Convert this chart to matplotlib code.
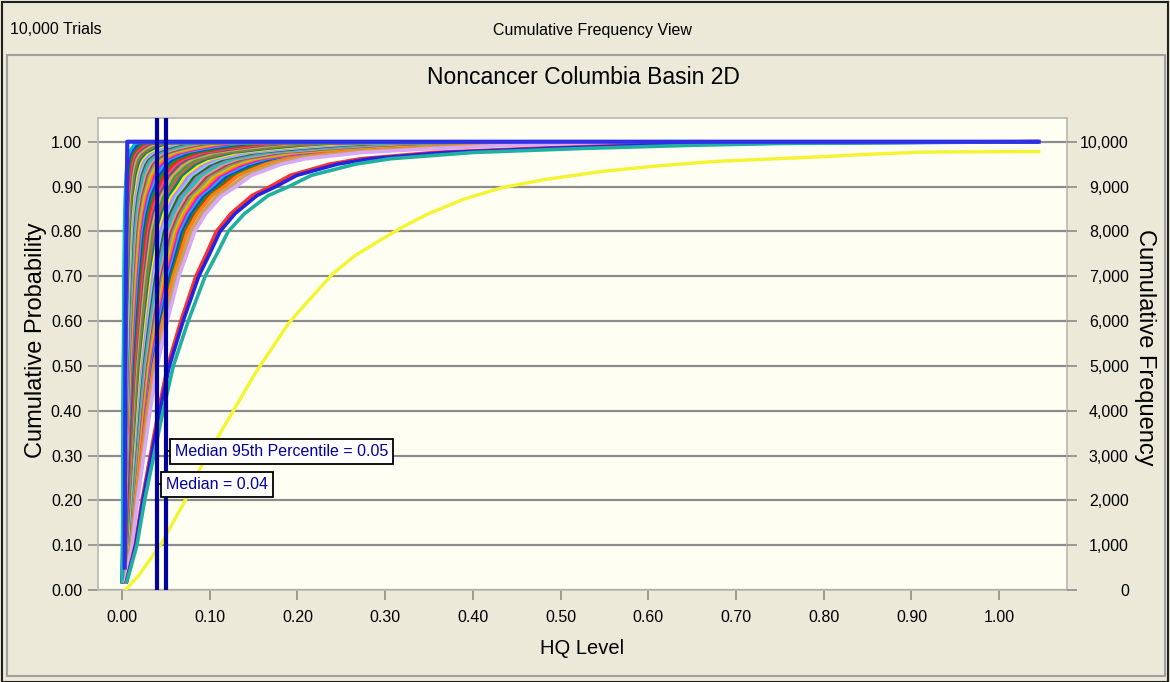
import numpy as np
import matplotlib
matplotlib.use('Agg')
import matplotlib.pyplot as plt
from matplotlib.patches import Rectangle
from matplotlib.ticker import FuncFormatter

# --- data ---
X_END = 1.045  # every forecast is drawn out to the same max HQ

# shape of one CDF (HQ / its median)
PROFILE_P = [0.015, 0.05, 0.10, 0.20, 0.30, 0.40, 0.50, 0.60, 0.70, 0.75, 0.80,
             0.84, 0.88, 0.90, 0.925, 0.950, 0.962, 0.976, 0.985, 0.992, 0.996, 0.998]
PROFILE_RATIO = [0.085, 0.17, 0.29, 0.44, 0.62, 0.80, 1.0, 1.29, 1.62, 1.85, 2.07,
                 2.39, 2.85, 3.25, 3.69, 4.55, 5.23, 6.84, 8.99, 11.1, 12.8, 15.4]

# medians (HQ at p=0.5) of the crowded bundle, left to right
BUNDLE_MEDIANS = [0.0012, 0.0015, 0.0018, 0.0020, 0.0023, 0.0026, 0.0030, 0.0033,
                  0.0036, 0.0040, 0.0044, 0.0048, 0.0052, 0.0056, 0.0060, 0.0065,
                  0.0070, 0.0075, 0.0080, 0.0086, 0.0092, 0.0098, 0.0105, 0.0112,
                  0.0120, 0.0128, 0.0136, 0.0145, 0.0155, 0.0165, 0.0175, 0.0185,
                  0.0195, 0.0205, 0.0215, 0.0225, 0.0235, 0.0245, 0.0255, 0.0265,
                  0.0275, 0.0285, 0.0295, 0.0305, 0.0315, 0.0325, 0.0335, 0.0345]
BUNDLE_COLORS = ['#ff2020', '#00a000', '#2f2fff', '#00c0c0', '#ff00ff', '#ff8000',
                 '#c8c800', '#909090', '#a0522d', '#ff80c0', '#00e080', '#8080ff',
                 '#3a6a00', '#80c8ff', '#c080ff', '#f0f000', '#008080', '#d06040',
                 '#40a040', '#e0a060', '#606060', '#ff4080']

# the few curves standing apart on the right of the bundle
NAMED_MEDIANS = [0.036, 0.038, 0.040, 0.052, 0.054, 0.0585]
NAMED_COLORS = ['#ff8010', '#c8a060', '#d8a8f8', '#ff3030', '#2424e0', '#20b0a0']

# the lone yellow forecast
YELLOW_HQ = [0.004, 0.02, 0.045, 0.072, 0.09, 0.114, 0.127, 0.152, 0.19, 0.21, 0.24,
             0.265, 0.294, 0.32, 0.35, 0.39, 0.432, 0.48, 0.548, 0.61, 0.676, 0.803,
             0.85, 0.915, 1.045]
YELLOW_P = [0.0, 0.035, 0.104, 0.20, 0.275, 0.357, 0.40, 0.484, 0.595, 0.64, 0.705,
            0.745, 0.78, 0.81, 0.84, 0.872, 0.897, 0.915, 0.934, 0.946, 0.956, 0.967,
            0.972, 0.977, 0.978]

MEDIAN = 0.04
MEDIAN_P95 = 0.05
TRIALS = 10000

BG = '#ece9d8'
PLOT_BG = '#fefef3'
NAVY = '#0000a0'

plt.rcParams['font.family'] = ['Liberation Sans', 'DejaVu Sans']

fig = plt.figure(figsize=(11.7, 6.82), dpi=100, facecolor=BG)
ax = fig.add_axes([98 / 1170, 1 - 590 / 682, (1067 - 98) / 1170, (590 - 118) / 682])
ax.set_facecolor(PLOT_BG)

# frames of the window
fig.add_artist(Rectangle((7 / 1170, 6 / 682), 1158 / 1170, 621 / 682, transform=fig.transFigure,
                         fill=False, ec='#a0a0a0', lw=1.5))
fig.add_artist(Rectangle((2 / 1170, 0), 1166 / 1170, 680 / 682, transform=fig.transFigure,
                         fill=False, ec='#202020', lw=1.5))

prof_p = np.array(PROFILE_P)
prof_r = np.array(PROFILE_RATIO)


def draw_cdf(med, color, lw=2.2):
    x = np.append(prof_r * med, X_END)
    y = np.append(prof_p, 1.0)
    ax.plot(x, y, color=color, lw=lw, solid_capstyle='butt', zorder=3)


for i, med in enumerate(BUNDLE_MEDIANS[::-1]):
    draw_cdf(med, BUNDLE_COLORS[i % len(BUNDLE_COLORS)])
for med, c in zip(NAMED_MEDIANS, NAMED_COLORS):
    draw_cdf(med, c, lw=2.6)

# blue curve sitting on 1.00 over the whole range
ax.plot([0.003, 0.004, 0.006, X_END], [0.05, 0.6, 1.0, 1.0], color='#2f2fe8', lw=3, zorder=4)

ax.plot(YELLOW_HQ, YELLOW_P, color='#f4f430', lw=2.4, zorder=4)

# median lines + labels
for xv in (MEDIAN, MEDIAN_P95):
    ax.axvline(xv, color=NAVY, lw=3, zorder=6)

ax.plot([MEDIAN_P95 + 0.002, 0.057], [0.309, 0.309], color='black', lw=1.2, zorder=6)
ax.plot([MEDIAN + 0.002, 0.047], [0.2355, 0.2355], color='black', lw=1.2, zorder=6)
box = dict(boxstyle='square,pad=0.32', fc='white', ec='black', lw=1.3)
ax.text(0.0605, 0.309, 'Median 95th Percentile = %.2f' % MEDIAN_P95, color=NAVY,
        fontsize=11.5, va='center', ha='left', bbox=box, zorder=7)
ax.text(0.0505, 0.2355, 'Median = %.2f' % MEDIAN, color=NAVY,
        fontsize=11.5, va='center', ha='left', bbox=box, zorder=7)

# axes
ax.set_xlim(-0.0274, 1.0773)
ax.set_ylim(0, 1.0529)
ax.set_xticks(np.arange(0, 1.01, 0.1))
ax.set_yticks(np.arange(0, 1.01, 0.1))
ax.xaxis.set_major_formatter(FuncFormatter(lambda v, p: '%.2f' % v))
ax.yaxis.set_major_formatter(FuncFormatter(lambda v, p: '%.2f' % v))
ax.grid(axis='y', color='#8c8c8c', lw=1.6, zorder=1)
ax.set_axisbelow(True)
for s in ax.spines.values():
    s.set_color('#b8b8b0')
    s.set_linewidth(1.2)
ax.tick_params(axis='both', colors='#8c8c8c', labelcolor='black', length=7.5, width=1.2,
               labelsize=11.5)
ax.tick_params(axis='x', pad=7)
ax.tick_params(axis='y', pad=4)

ax2 = ax.twinx()
ax2.set_ylim(0, 1.0529 * TRIALS)
ax2.set_yticks(np.arange(0, TRIALS + 1, 1000))
ax2.yaxis.set_major_formatter(FuncFormatter(lambda v, p: '{:,.0f}'.format(v)))
ax2.tick_params(axis='y', colors='#8c8c8c', labelcolor='black', length=7.5, width=1.2,
                labelsize=11.5, pad=37)
for lab in ax2.get_yticklabels():
    lab.set_horizontalalignment('right')
for s in ax2.spines.values():
    s.set_visible(False)

ax.set_xlabel('HQ Level', fontsize=14.5, va='center')
ax.xaxis.set_label_coords(0.5, -0.125)
ax.set_ylabel('Cumulative Probability', fontsize=17, va='center')
ax.yaxis.set_label_coords(-0.064, 0.53)
ax2.set_ylabel('Cumulative Frequency', fontsize=17, rotation=270, va='center')
ax2.yaxis.set_label_coords(1.0805, 0.515)

fig.text(583 / 1170, 1 - 78 / 682, 'Noncancer Columbia Basin 2D', fontsize=16.5,
         ha='center', va='center')
fig.text(10 / 1170, 1 - 30 / 682, '%s Trials' % '{:,}'.format(TRIALS), fontsize=11.5,
         ha='left', va='center')
fig.text(592 / 1170, 1 - 30 / 682, 'Cumulative Frequency View', fontsize=11.5,
         ha='center', va='center')

fig.savefig('out.png', dpi=100, facecolor=BG)
